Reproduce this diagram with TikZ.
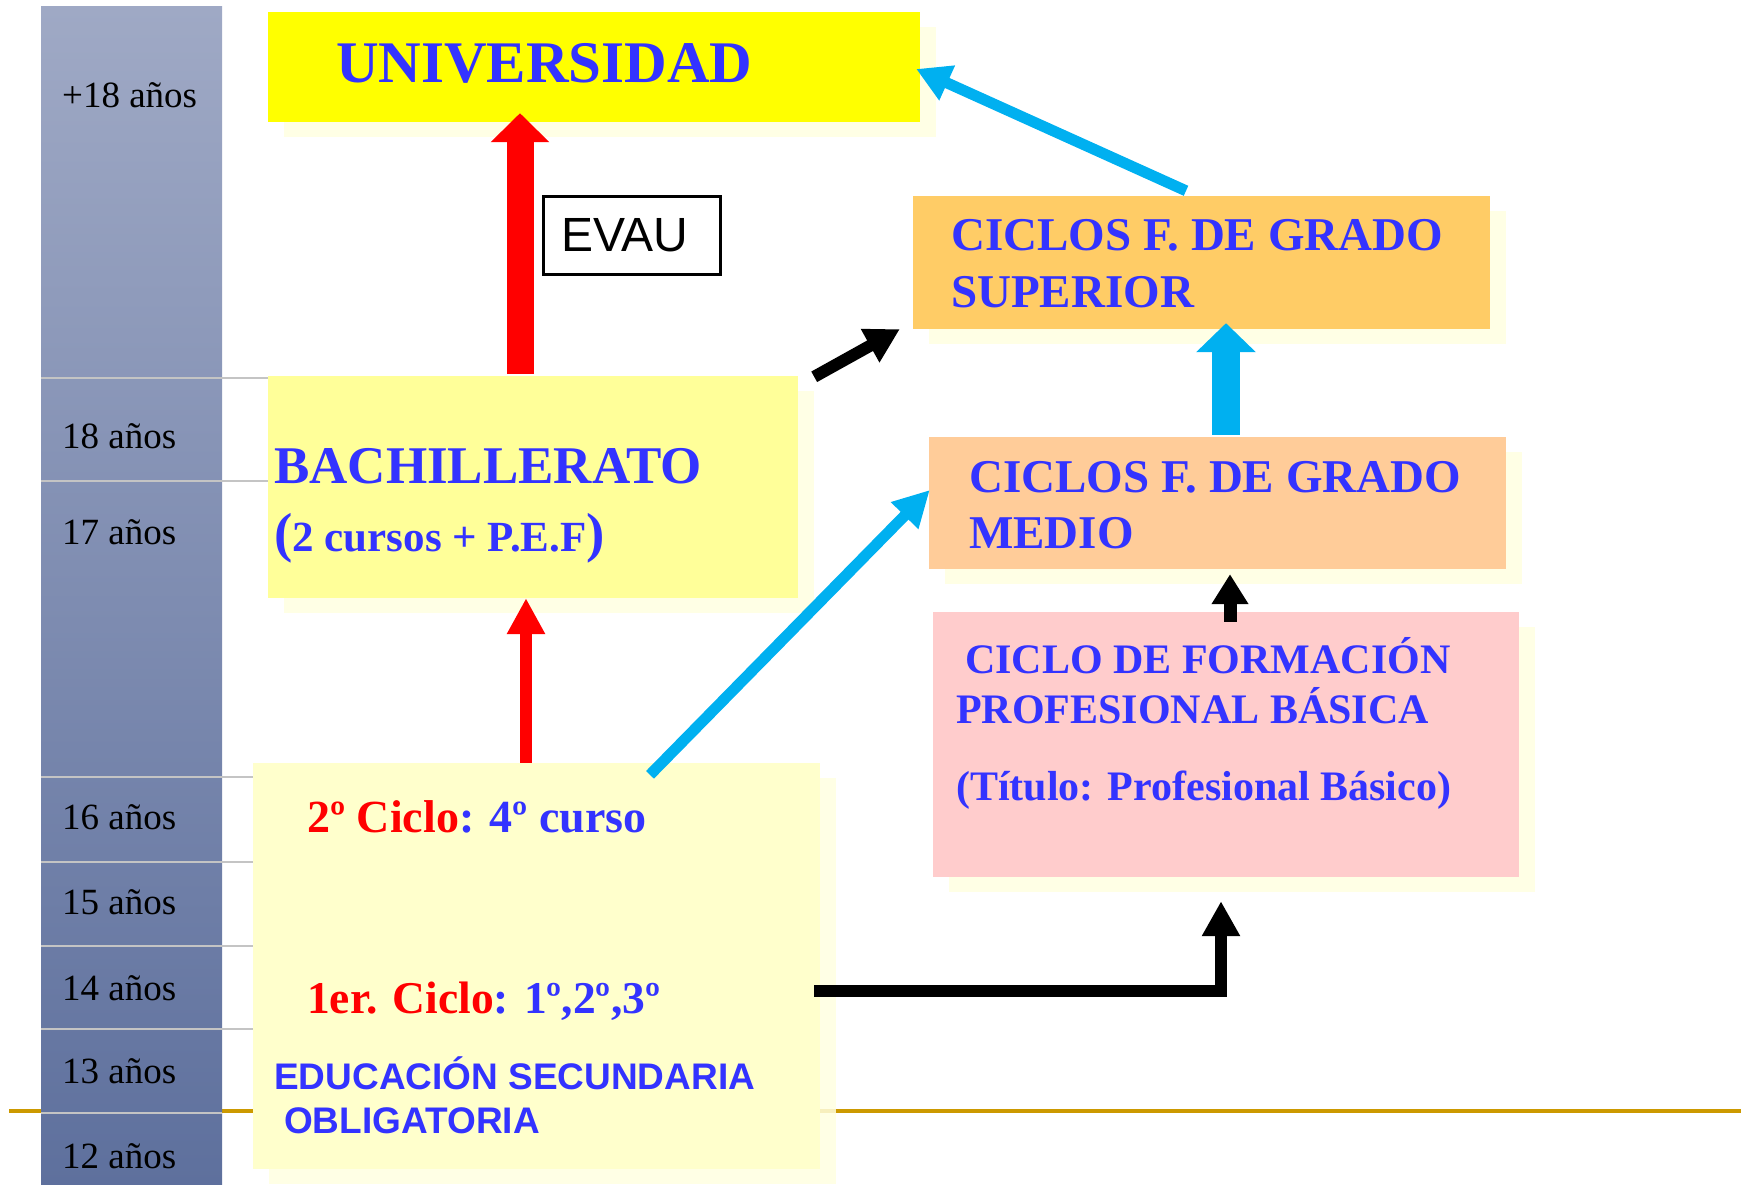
\documentclass[tikz,border=0pt]{standalone}
\usepackage{fontspec}
\setmainfont{Liberation Serif}
\setsansfont{Liberation Sans}
\usetikzlibrary{arrows.meta,shadows}

\definecolor{txtblue}{RGB}{51,51,255}
\definecolor{arrowred}{RGB}{255,0,0}
\definecolor{arrowcyan}{RGB}{0,176,240}
\definecolor{univyellow}{RGB}{255,255,0}
\definecolor{bachyellow}{RGB}{255,255,153}
\definecolor{esoyellow}{RGB}{255,255,204}
\definecolor{supcol}{RGB}{255,204,102}
\definecolor{medcol}{RGB}{255,204,153}
\definecolor{basicpink}{RGB}{255,204,204}
\definecolor{shadowyellow}{RGB}{255,255,224}
\definecolor{goldline}{RGB}{204,153,0}
\definecolor{sepgray}{RGB}{196,196,196}
\definecolor{bartop}{RGB}{159,169,197}
\definecolor{barbottom}{RGB}{94,112,157}

\tikzset{
    box/.style={fill=#1, inner sep=0pt,
        drop shadow={shadow xshift=16pt, shadow yshift=-15pt, fill=shadowyellow, opacity=0.85}},
    agelabel/.style={anchor=base west, inner sep=0pt, font=\fontsize{37}{40}\selectfont},
    boxtitle/.style={anchor=base west, inner sep=0pt, text=txtblue, font=\fontsize{#1}{#1}\selectfont\bfseries},
    sanstitle/.style={anchor=base west, inner sep=0pt, text=txtblue, font=\sffamily\bfseries\fontsize{#1}{#1}\selectfont},
    sepline/.style={draw=sepgray, line width=2.5pt},
}

\begin{document}
\begin{tikzpicture}[x=1pt, y=-1pt]
            \useasboundingbox (0,0) rectangle (1741,1185);
            %\draw[lightgray] (0,0) grid[step=100] (1741,1185);
            \draw[goldline, line width=3.5pt] (9,1111) -- (1741,1111);
            \shade[top color=bartop, bottom color=barbottom] (41,7) rectangle (222,1185);
            \draw[sepline] (41,378) -- (268,378);
            \draw[sepline] (41,481) -- (268,481);
            \foreach \y in {777,862,946,1029}
                \draw[sepline] (41,\y) -- (253,\y);
            \draw[sepline] (41,1113) -- (222,1113);
            % ages
            \node[agelabel] (a18p) at (62,108) {+18 años};
            \node[agelabel] (a18) at (62,448) {18 años};
            \node[agelabel] (a17) at (62,544) {17 años};
            \node[agelabel] (a16) at (62,829) {16 años};
            \node[agelabel] (a15) at (62,914) {15 años};
            \node[agelabel] (a14) at (62,1000) {14 años};
            \node[agelabel] (a13) at (62,1083) {13 años};
            \node[agelabel] (a12) at (62,1168) {12 años};
            % boxes
            \node[box=univyellow, minimum width=652pt, minimum height=110pt] (univ) at (594,67) {};
            \node[box=bachyellow, minimum width=530pt, minimum height=222pt] (bach) at (533,487) {};
            \node[box=esoyellow, minimum width=567pt, minimum height=406pt] (eso) at (536.5,966) {};
            \node[box=supcol, minimum width=577pt, minimum height=133pt] (cfgs) at (1201.5,262.5) {};
            \node[box=medcol, minimum width=577pt, minimum height=132pt] (cfgm) at (1217.5,503) {};
            \node[box=basicpink, minimum width=586pt, minimum height=265pt] (fpb) at (1226,744.5) {};
            \node[draw, line width=3.5pt, inner sep=0pt, minimum width=177pt, minimum height=78pt,
                font=\sffamily\fontsize{48}{48}\selectfont] (evau) at (632,235.5) {EVAU\kern14pt};
            % texts
            \node[boxtitle=59] (univtxt) at (336,83) {UNIVERSIDAD};
            \node[boxtitle=53] (bachtxt) at (274,483) {BACHILLERATO};
            \node[boxtitle=43] (bachsub) at (274,551) {{\fontsize{55}{55}\selectfont(}2 cursos + P.E.F{\fontsize{55}{55}\selectfont)}};
            \node[boxtitle=47] (cfgs1) at (951,251) {CICLOS F. DE GRADO};
            \node[boxtitle=47] (cfgs2) at (951,308) {SUPERIOR};
            \node[boxtitle=47] (cfgm1) at (969,492) {CICLOS F. DE GRADO};
            \node[boxtitle=47] (cfgm2) at (969,548) {MEDIO};
            \node[boxtitle=42] (fpb1) at (965,673) {CICLO DE FORMACIÓN};
            \node[boxtitle=42] (fpb2) at (956,723) {PROFESIONAL BÁSICA};
            \node[boxtitle=42] (fpb3) at (956,800) {(Título: Profesional Básico)};
            \node[boxtitle=46] (eso2) at (307,832) {\textcolor{arrowred}{2º Ciclo}: 4º curso};
            \node[boxtitle=45.5] (eso1) at (307,1013) {\textcolor{arrowred}{1er. Ciclo}: 1º,2º,3º};
            \node[sanstitle=37] (esotxt1) at (274,1089) {EDUCACIÓN SECUNDARIA};
            \node[sanstitle=37] (esotxt2) at (284,1133) {OBLIGATORIA};
            % arrows
            \draw[arrowred, line width=27pt, -{Triangle[width=57pt,length=29pt]}]
                ([shift={(-13pt,2pt)}]bach.north) -- ([shift={(-74pt,9pt)}]univ.south);
            \draw[arrowred, line width=12pt, -{Triangle[width=36pt,length=36pt]}]
                ([shift={(-10.5pt,0pt)}]eso.north) -- ([shift={(-7pt,0pt)}]bach.south);
            \draw[arrowcyan, line width=28pt, -{Triangle[width=58pt,length=29pt]}]
                ([shift={(8.5pt,2pt)}]cfgm.north) -- ([shift={(24.5pt,6pt)}]cfgs.south);
            \draw[black, line width=13pt, -{Triangle[width=35pt,length=30pt]}]
                ([shift={(4pt,-10pt)}]fpb.north) -- ([shift={(12.5pt,-5pt)}]cfgm.south);
            \draw[black, line width=12pt, -{Triangle[width=36pt,length=35pt]}]
                ([shift={(-6pt,-25pt)}]eso.east) -| ([shift={(-5pt,-24pt)}]fpb.south);
            \draw[black, line width=12pt, -{Triangle[width=36pt,length=34pt]}]
                ([shift={(16pt,-1pt)}]bach.north east) -- ([shift={(-13pt,0pt)}]cfgs.south west);
            \draw[arrowcyan, line width=11pt, -{Triangle[width=36pt,length=36pt]}]
                ([shift={(113.5pt,-12pt)}]eso.north) -- ([shift={(1pt,13pt)}]cfgm.west);
            \draw[arrowcyan, line width=11pt, -{Triangle[width=36pt,length=34pt]}]
                ([shift={(-15.5pt,5pt)}]cfgs.north) -- ([shift={(-4pt,-2pt)}]univ.east);
\end{tikzpicture}
\end{document}
